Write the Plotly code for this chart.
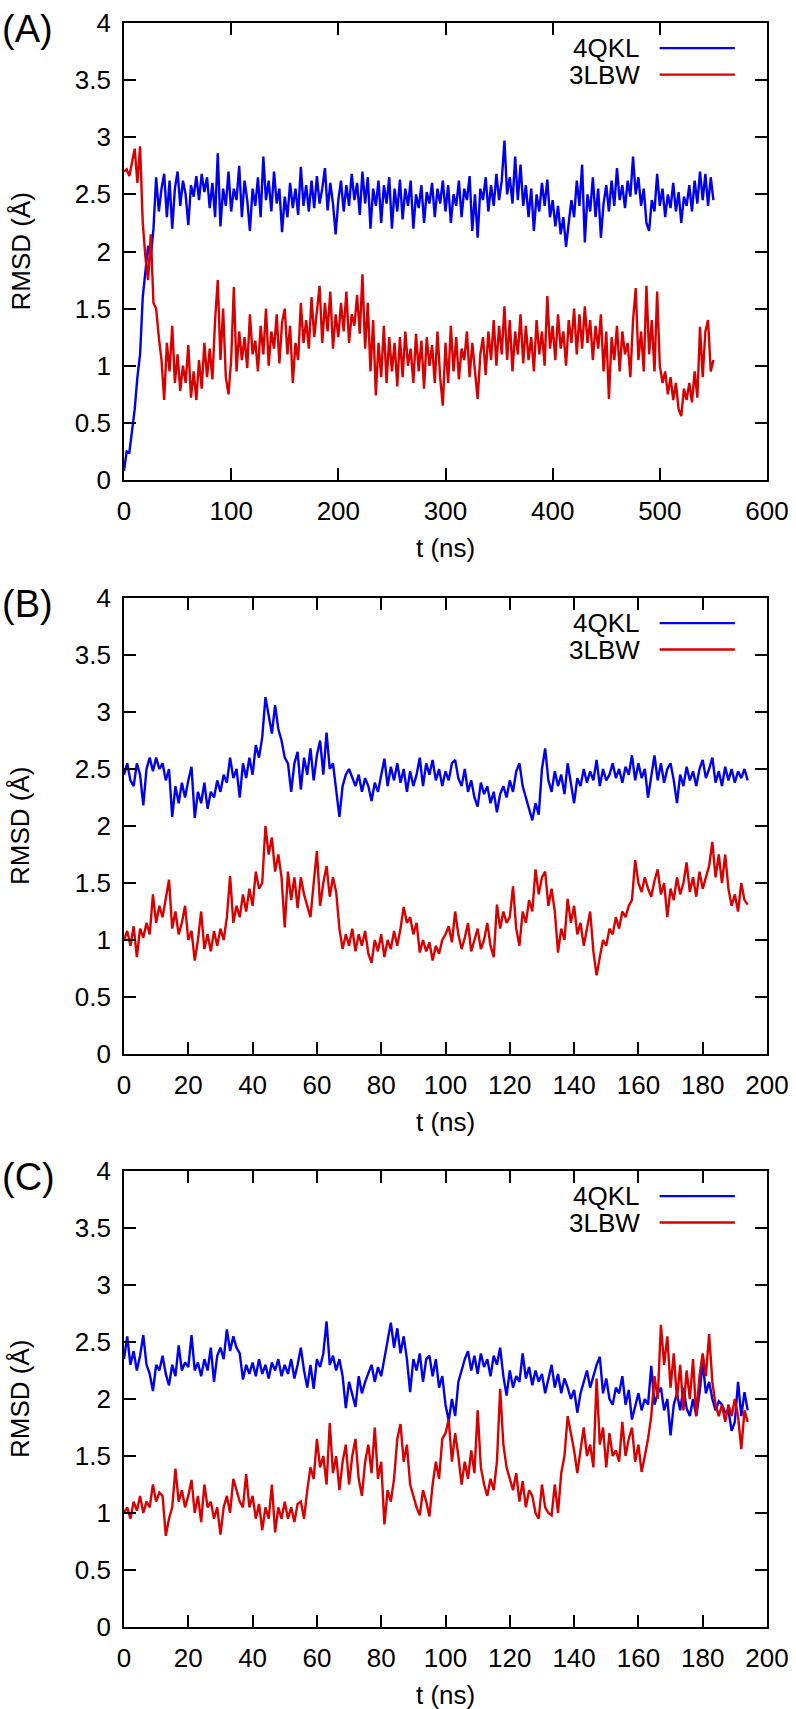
import plotly.graph_objects as go

# ---------------- data ----------------
PANEL_LABELS = ["(A)", "(B)", "(C)"]
SERIES_NAMES = ["4QKL", "3LBW"]
SERIES_COLORS = ["#0000ee", "#d90000"]

T_STEP_A = 2.5    # ns between plotted samples, panel A
T_STEP_BC = 1.0   # ns between plotted samples, panels B and C

A_4QKL = [
    0.08, 0.25, 0.24, 0.45, 0.62, 0.90, 1.10, 1.60, 1.80, 2.05,
    1.95, 2.20, 2.65, 2.35, 2.55, 2.68, 2.30, 2.62, 2.20, 2.55,
    2.70, 2.40, 2.62, 2.50, 2.23, 2.58, 2.48, 2.66, 2.45, 2.68,
    2.52, 2.65, 2.38, 2.60, 2.30, 2.86, 2.22, 2.55, 2.40, 2.70,
    2.35, 2.55, 2.45, 2.75, 2.30, 2.62, 2.45, 2.18, 2.55, 2.40,
    2.65, 2.30, 2.83, 2.45, 2.62, 2.35, 2.70, 2.42, 2.55, 2.17,
    2.48, 2.30, 2.60, 2.38, 2.55, 2.32, 2.74, 2.40, 2.58, 2.35,
    2.62, 2.38, 2.66, 2.42, 2.55, 2.73, 2.36, 2.60, 2.42, 2.15,
    2.45, 2.62, 2.35, 2.58, 2.40, 2.68, 2.45, 2.60, 2.32, 2.70,
    2.42, 2.65, 2.20, 2.55, 2.40, 2.62, 2.25, 2.58, 2.42, 2.65,
    2.20, 2.55, 2.35, 2.63, 2.28, 2.55, 2.40, 2.62, 2.20, 2.50,
    2.38, 2.58, 2.25, 2.52, 2.42, 2.60, 2.30, 2.55, 2.42, 2.62,
    2.35, 2.58, 2.25, 2.50, 2.40, 2.62, 2.30, 2.55, 2.45, 2.66,
    2.18, 2.50, 2.12, 2.55, 2.45, 2.65, 2.35, 2.58, 2.40, 2.68,
    2.45, 2.62, 2.97, 2.50, 2.65, 2.42, 2.83, 2.45, 2.76, 2.40,
    2.58, 2.30, 2.55, 2.18, 2.50, 2.35, 2.60, 2.40, 2.63, 2.30,
    2.45, 2.22, 2.40, 2.15, 2.30, 2.04, 2.25, 2.45, 2.30, 2.62,
    2.40, 2.76, 2.08, 2.50, 2.35, 2.65, 2.30, 2.55, 2.12, 2.42,
    2.58, 2.35, 2.62, 2.40, 2.73, 2.45, 2.58, 2.38, 2.62, 2.48,
    2.83, 2.50, 2.65, 2.40, 2.55, 2.25, 2.18, 2.45, 2.35, 2.68,
    2.40, 2.55, 2.30, 2.50, 2.38, 2.60, 2.35, 2.52, 2.25, 2.48,
    2.40, 2.58, 2.35, 2.62, 2.42, 2.70, 2.45, 2.68, 2.40, 2.65,
    2.45,
]
A_3LBW = [
    2.70, 2.72, 2.66, 2.78, 2.90, 2.60, 2.92, 2.25, 1.95, 1.75,
    2.15, 1.55, 1.50, 1.25, 1.05, 0.70, 1.20, 0.95, 1.35, 0.85,
    1.10, 0.78, 1.00, 0.85, 1.18, 0.72, 0.95, 0.70, 1.05, 0.80,
    1.20, 0.90, 1.15, 0.88, 1.40, 1.75, 1.05, 1.50, 0.90, 0.75,
    1.05, 1.69, 0.95, 1.30, 1.05, 1.25, 0.98, 1.45, 1.10, 1.22,
    0.95, 1.35, 1.10, 1.50, 1.00, 1.30, 1.15, 1.45, 1.02, 1.38,
    1.50, 1.10, 1.35, 0.85, 1.20, 1.05, 1.55, 1.20, 1.40, 1.15,
    1.60, 1.25, 1.45, 1.70, 1.20, 1.55, 1.30, 1.65, 1.15, 1.45,
    1.25, 1.55, 1.30, 1.65, 1.20, 1.45, 1.35, 1.62, 1.28, 1.80,
    1.15, 1.55, 0.95, 1.40, 0.74, 1.20, 0.90, 1.35, 0.85, 1.25,
    0.95, 1.20, 0.82, 1.25, 0.90, 1.30, 1.00, 1.15, 0.85, 1.28,
    0.95, 1.22, 0.80, 1.25, 1.00, 1.18, 0.85, 1.30, 0.90, 0.65,
    1.20, 0.85, 1.35, 0.95, 1.25, 0.88, 1.15, 1.05, 1.30, 0.90,
    1.20, 0.95, 0.71, 1.10, 1.25, 0.92, 1.30, 1.05, 1.40, 1.00,
    1.35, 1.10, 1.52, 1.05, 1.40, 0.95, 1.30, 1.10, 1.45, 1.02,
    1.35, 1.05, 1.25, 0.95, 1.40, 1.10, 1.30, 1.00, 1.61, 1.15,
    1.35, 1.05, 1.45, 1.15, 1.30, 1.00, 1.40, 1.20, 1.50, 1.10,
    1.45, 1.15, 1.52, 1.20, 1.40, 1.05, 1.35, 1.15, 1.45, 0.95,
    1.30, 0.71, 1.25, 1.05, 1.35, 0.95, 1.30, 1.10, 1.20, 0.90,
    1.40, 1.68, 1.05, 1.30, 0.95, 1.70, 1.10, 1.40, 0.95, 1.65,
    1.00, 0.85, 0.95, 0.75, 0.90, 0.70, 0.85, 0.62, 0.56, 0.80,
    0.70, 0.85, 0.68, 0.95, 0.72, 1.34, 0.90, 1.30, 1.40, 0.95,
    1.05,
]

B_4QKL = [
    2.45, 2.55, 2.40, 2.35, 2.55, 2.45, 2.18, 2.50, 2.60, 2.48,
    2.60, 2.50, 2.55, 2.40, 2.50, 2.08, 2.35, 2.20, 2.38, 2.25,
    2.40, 2.52, 2.07, 2.30, 2.20, 2.38, 2.15, 2.30, 2.25, 2.40,
    2.30, 2.45, 2.38, 2.60, 2.42, 2.50, 2.25, 2.55, 2.42, 2.60,
    2.45, 2.71, 2.60, 2.78, 3.13, 2.95, 2.81, 3.06, 2.85, 2.75,
    2.60, 2.55, 2.30, 2.55, 2.65, 2.32, 2.60, 2.45, 2.68, 2.40,
    2.62, 2.75, 2.45, 2.82, 2.50, 2.55, 2.30, 2.08, 2.35, 2.45,
    2.50, 2.42, 2.35, 2.45, 2.30, 2.42, 2.35, 2.22, 2.38, 2.30,
    2.45, 2.59, 2.35, 2.52, 2.40, 2.55, 2.38, 2.50, 2.30, 2.48,
    2.35, 2.45, 2.60, 2.35, 2.55, 2.45, 2.58, 2.40, 2.50, 2.35,
    2.48, 2.40, 2.55, 2.58, 2.42, 2.35, 2.50, 2.30, 2.40, 2.25,
    2.17, 2.38, 2.28, 2.35, 2.20, 2.30, 2.12, 2.28, 2.35, 2.25,
    2.40, 2.30, 2.48, 2.55, 2.35, 2.25, 2.15, 2.05, 2.20, 2.10,
    2.50, 2.68, 2.40, 2.30, 2.48, 2.35, 2.45, 2.28, 2.55, 2.38,
    2.20, 2.42, 2.35, 2.50, 2.38, 2.48, 2.40, 2.58, 2.35, 2.50,
    2.40, 2.45, 2.55, 2.42, 2.50, 2.38, 2.52, 2.45, 2.62, 2.40,
    2.55, 2.42, 2.50, 2.25, 2.45, 2.62, 2.40, 2.55, 2.38, 2.50,
    2.55, 2.40, 2.20, 2.45, 2.35, 2.52, 2.40, 2.48, 2.35, 2.50,
    2.58, 2.42, 2.50, 2.60, 2.38, 2.48, 2.35, 2.52, 2.40, 2.50,
    2.38, 2.48, 2.42, 2.50, 2.40,
]
B_3LBW = [
    1.00, 1.08, 0.95, 1.12, 0.85, 1.10, 1.02, 1.15, 1.05, 1.40,
    1.15, 1.30, 1.20, 1.35, 1.53, 1.10, 1.25, 1.05, 1.15, 1.30,
    1.00, 1.08, 0.82, 1.00, 1.25, 0.92, 1.05, 0.90, 1.08, 0.95,
    1.10, 1.00, 1.20, 1.56, 1.15, 1.30, 1.20, 1.40, 1.25, 1.45,
    1.30, 1.60, 1.45, 1.50, 2.00, 1.75, 1.90, 1.60, 1.75, 1.55,
    1.11, 1.60, 1.35, 1.55, 1.28, 1.55, 1.40, 1.30, 1.20, 1.50,
    1.78, 1.30, 1.50, 1.65, 1.38, 1.55, 1.42, 1.10, 0.92, 1.05,
    0.95, 1.10, 0.90, 1.05, 0.95, 1.08, 0.88, 0.80, 1.00, 0.90,
    1.05, 0.85, 1.00, 0.92, 1.08, 0.95, 1.10, 1.29, 1.15, 1.20,
    1.05, 1.15, 0.89, 1.00, 0.90, 0.98, 0.82, 0.95, 0.88, 1.00,
    1.05, 1.12, 0.98, 1.25, 1.05, 0.92, 1.02, 1.15, 0.90, 1.00,
    1.10, 0.92, 1.00, 1.15, 0.95, 0.85, 1.31, 1.10, 1.25, 1.15,
    1.20, 1.47, 1.10, 0.95, 1.25, 1.15, 1.35, 1.25, 1.62, 1.40,
    1.55, 1.60, 1.30, 1.45, 1.25, 0.89, 1.10, 1.00, 1.36, 1.15,
    1.30, 1.05, 1.15, 0.95, 1.10, 1.25, 0.90, 0.69, 0.85, 1.00,
    0.95, 1.10, 1.05, 1.20, 1.10, 1.25, 1.20, 1.30, 1.35, 1.70,
    1.50, 1.42, 1.55, 1.45, 1.38, 1.52, 1.62, 1.40, 1.50, 1.20,
    1.45, 1.35, 1.55, 1.40, 1.50, 1.68, 1.42, 1.55, 1.38, 1.60,
    1.45, 1.55, 1.65, 1.86, 1.55, 1.75, 1.50, 1.75, 1.45, 1.30,
    1.40, 1.25, 1.50, 1.35, 1.31,
]

C_4QKL = [
    2.35, 2.55, 2.30, 2.42, 2.25, 2.38, 2.56, 2.30, 2.22, 2.07,
    2.30, 2.25, 2.38, 2.22, 2.12, 2.30, 2.20, 2.47, 2.25, 2.32,
    2.28, 2.56, 2.25, 2.32, 2.20, 2.35, 2.25, 2.45, 2.15, 2.38,
    2.45, 2.35, 2.61, 2.42, 2.55, 2.45, 2.40, 2.17, 2.30, 2.22,
    2.32, 2.20, 2.35, 2.22, 2.30, 2.18, 2.32, 2.25, 2.35, 2.20,
    2.30, 2.22, 2.35, 2.18, 2.30, 2.45, 2.25, 2.10, 2.30, 2.09,
    2.35, 2.28, 2.40, 2.68, 2.30, 2.38, 2.25, 2.35, 2.20, 1.92,
    2.15, 2.05, 1.93, 2.20, 2.05, 2.15, 2.22, 2.30, 2.15, 2.28,
    2.20, 2.35, 2.50, 2.67, 2.45, 2.62, 2.40, 2.55, 2.35, 2.06,
    2.35, 2.25, 2.40, 2.15, 2.35, 2.38, 2.20, 2.35, 2.10, 2.20,
    1.95, 1.81, 2.00, 1.85, 2.15, 2.25, 2.35, 2.42, 2.25, 2.38,
    2.22, 2.40, 2.28, 2.35, 2.20, 2.38, 2.30, 2.45, 2.20, 2.03,
    2.25, 2.10, 2.20, 2.15, 2.40, 2.18, 2.28, 2.12, 2.25, 2.15,
    2.22, 2.05, 2.18, 2.30, 2.10, 2.22, 2.05, 2.18, 2.10, 2.00,
    2.08, 1.88, 2.05, 2.15, 2.25, 2.10, 2.20, 2.30, 2.37, 2.05,
    2.18, 2.00, 1.95, 2.10, 2.05, 2.20, 1.95, 2.08, 1.82, 1.95,
    2.05, 1.90, 2.00, 1.95, 2.29, 1.95, 2.05, 2.10, 1.90, 2.00,
    1.68, 1.95, 2.05, 1.90, 2.10, 1.92, 1.85, 2.00, 1.85, 2.05,
    2.32, 2.05, 2.15, 2.00, 1.90, 1.98, 1.95, 1.88, 1.90, 1.72,
    1.80, 2.15, 1.85, 2.06, 1.90,
]
C_3LBW = [
    1.00, 1.05, 0.95, 1.10, 1.02, 1.15, 1.00, 1.10, 1.05, 1.25,
    1.10, 1.18, 1.15, 0.80, 0.95, 1.05, 1.39, 1.10, 1.20, 1.05,
    1.15, 1.29, 1.00, 1.15, 0.92, 1.25, 1.05, 1.10, 0.95, 1.05,
    0.81, 1.05, 1.15, 1.00, 1.30, 1.20, 1.10, 1.05, 1.34, 1.05,
    1.15, 0.95, 1.08, 0.85, 1.05, 0.95, 1.25, 0.83, 1.05, 0.95,
    1.10, 0.95, 1.05, 0.92, 1.08, 1.10, 0.95, 1.20, 1.40, 1.30,
    1.65, 1.40, 1.50, 1.25, 1.79, 1.35, 1.50, 1.20, 1.45, 1.60,
    1.25, 1.50, 1.65, 1.30, 1.15, 1.45, 1.60, 1.35, 1.75, 1.30,
    1.45, 0.90, 1.20, 1.10, 1.30, 1.65, 1.78, 1.45, 1.60, 1.25,
    1.15, 1.05, 0.98, 1.20, 1.10, 0.97, 1.25, 1.45, 1.30, 1.65,
    1.70, 1.82, 1.45, 1.70, 1.50, 1.25, 1.45, 1.30, 1.55, 1.35,
    1.90, 1.40, 1.25, 1.15, 1.30, 1.20, 1.45, 2.09, 1.60, 1.40,
    1.30, 1.20, 1.35, 1.10, 1.28, 1.05, 1.20, 1.15, 1.00, 0.95,
    1.25, 1.05, 1.00, 0.98, 1.25, 1.00, 1.35, 1.50, 1.85, 1.70,
    1.55, 1.35, 1.55, 1.75, 1.50, 1.60, 1.40, 2.18, 1.60, 1.75,
    1.40, 1.70, 1.50, 1.55, 1.45, 1.80, 1.50, 1.65, 1.75, 1.45,
    1.60, 1.36, 1.50, 1.65, 1.85, 2.20, 2.00, 2.65, 2.30, 2.55,
    2.10, 2.40, 2.00, 2.30, 1.90, 2.25, 2.00, 2.35, 1.85, 2.20,
    2.40, 2.20, 2.57, 2.15, 1.95, 1.85, 1.95, 1.80, 1.95, 1.85,
    2.00, 1.85, 1.56, 1.90, 1.80,
]

X_TICKS_A = [0, 100, 200, 300, 400, 500, 600]
X_TICKS_BC = [0, 20, 40, 60, 80, 100, 120, 140, 160, 180, 200]
Y_TICKS = [0, 0.5, 1, 1.5, 2, 2.5, 3, 3.5, 4]
X_RANGES = [[0, 600], [0, 200], [0, 200]]
Y_RANGE = [0, 4]

# ---------------- figure ----------------
W, H = 796, 1709
FONT = "Liberation Sans, Arial, Helvetica, sans-serif"
TICK_SIZE = 26

x_dom = [124 / W, 767 / W]
y_doms = [
    [1 - 480 / H, 1 - 23 / H],
    [1 - 1054 / H, 1 - 598 / H],
    [1 - 1627 / H, 1 - 1171 / H],
]

panels = [
    (A_4QKL, A_3LBW, T_STEP_A, X_TICKS_A),
    (B_4QKL, B_3LBW, T_STEP_BC, X_TICKS_BC),
    (C_4QKL, C_3LBW, T_STEP_BC, X_TICKS_BC),
]

fig = go.Figure()
layout = dict(
    width=W, height=H,
    margin=dict(l=0, r=0, t=0, b=0),
    paper_bgcolor="white", plot_bgcolor="white",
    showlegend=False,
    font=dict(family=FONT, size=TICK_SIZE, color="black"),
)
annotations = []
shapes = []

axis_common = dict(
    showline=True, linecolor="black", linewidth=1.6, mirror="allticks",
    ticks="inside", ticklen=12, tickwidth=1.5, tickcolor="black",
    showgrid=False, zeroline=False, automargin=False,
    tickfont=dict(family=FONT, size=TICK_SIZE, color="black"),
)

for i, (blue, red, step, xticks) in enumerate(panels):
    n = i + 1
    xa = "x" if n == 1 else f"x{n}"
    ya = "y" if n == 1 else f"y{n}"
    for name, vals, col in zip(SERIES_NAMES, [blue, red], SERIES_COLORS):
        t = [k * step for k in range(len(vals))]
        fig.add_trace(go.Scatter(
            x=t, y=vals, mode="lines", name=name,
            line=dict(color=col, width=2.4),
            xaxis=xa, yaxis=ya,
        ))
    xkey = "xaxis" if n == 1 else f"xaxis{n}"
    ykey = "yaxis" if n == 1 else f"yaxis{n}"
    layout[xkey] = dict(axis_common, domain=x_dom, range=X_RANGES[i],
                        tickvals=xticks, anchor=ya, ticklabelstandoff=7)
    layout[ykey] = dict(axis_common, domain=y_doms[i], range=Y_RANGE,
                        tickvals=Y_TICKS, anchor=xa, ticklabelstandoff=6)

    xd = f"{xa} domain"
    yd = f"{ya} domain"
    # panel label
    annotations.append(dict(text=PANEL_LABELS[i], xref="paper", x=0.0, xanchor="left",
                            yref=yd, y=1, yshift=-6, yanchor="middle", showarrow=False,
                            font=dict(family=FONT, size=38, color="black")))
    # axis titles
    annotations.append(dict(text="RMSD (Å)", xref="paper", x=20 / W, xanchor="center",
                            yref=yd, y=0.5, yanchor="middle", textangle=-90,
                            showarrow=False, font=dict(family=FONT, size=TICK_SIZE, color="black")))
    annotations.append(dict(text="t (ns)", xref=xd, x=0.5, xanchor="center",
                            yref=yd, y=0, yshift=-68, yanchor="middle",
                            showarrow=False, font=dict(family=FONT, size=TICK_SIZE, color="black")))
    # legend (text on the left, sample line on the right, as in the reference)
    for name, col, ly in zip(SERIES_NAMES, SERIES_COLORS, [0.945, 0.887]):
        annotations.append(dict(text=name, xref=xd, x=0.805, xanchor="right",
                                yref=yd, y=ly, yanchor="middle", showarrow=False,
                                font=dict(family=FONT, size=TICK_SIZE, color="black")))
        shapes.append(dict(type="line", xref=xd, yref=yd, x0=0.833, x1=0.950,
                           y0=ly, y1=ly, line=dict(color=col, width=2.4)))

layout["annotations"] = annotations
layout["shapes"] = shapes
fig.update_layout(**layout)

# remove the browser's default 8px body margin so the figure sits at (0, 0)
fig.write_html(
    "out.html",
    config={"displayModeBar": False},
    post_script="document.body.style.margin='0px';document.body.style.overflow='hidden';",
)
